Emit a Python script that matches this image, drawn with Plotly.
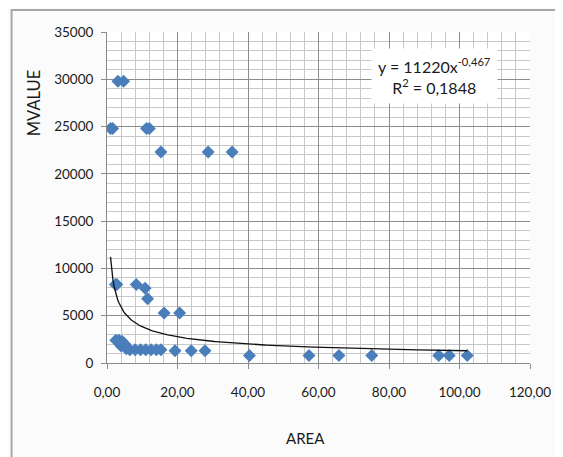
import numpy as np
import plotly.graph_objects as go

# ---- data ----
area = [1.0, 1.6, 3.1, 4.7, 11.2, 12.0, 15.3, 28.7, 35.5,
        2.4, 2.8, 8.3, 10.8, 11.5, 16.2, 20.6,
        2.5, 3.4, 4.3, 5.0, 4.0,
        5.5, 6.5, 8.0, 9.5, 11.0, 12.5, 14.0, 15.3,
        19.3, 23.9, 27.8,
        40.4, 57.3, 65.8, 75.1, 94.1, 97.1, 102.2]
mvalue = [24800, 24800, 29800, 29800, 24800, 24800, 22300, 22300, 22300,
          8300, 8300, 8300, 7900, 6800, 5300, 5300,
          2400, 2400, 2300, 2000, 1800,
          1500, 1400, 1400, 1400, 1400, 1400, 1400, 1400,
          1300, 1300, 1300,
          800, 800, 800, 800, 800, 800, 800]
coef_a = 11220
coef_b = -0.467
r2_text = "0,1848"
x_ticks = [0, 20, 40, 60, 80, 100, 120]

FONT = "Lato"
OFF = 8  # page body margin
W, H = 563 - OFF, 457 - OFF
# plot-area edges in page pixels
L, R, T, B = 107, 537, 32, 363

trend_x = np.linspace(min(area), max(area), 300)
trend_y = coef_a * trend_x ** coef_b

fig = go.Figure()
fig.add_trace(go.Scatter(x=area, y=mvalue, mode="markers",
                         marker=dict(symbol="diamond", size=10, color="#4a7ebb",
                                     line=dict(width=0)),
                         showlegend=False))
fig.add_trace(go.Scatter(x=trend_x, y=trend_y, mode="lines",
                         line=dict(color="#111111", width=1.3), showlegend=False))

def px_x(p):
    return (p - L) / (R - L)

def px_y(p):
    return (B - p) / (B - T)

fig.update_layout(
    width=W, height=H,
    margin=dict(l=L - OFF, r=W - (R - OFF), t=T - OFF, b=H - (B - OFF)),
    paper_bgcolor="#fbfbfb", plot_bgcolor="white",
    separators=",.",
    font=dict(family=FONT, size=13.5, color="#1a1a1a"),
    xaxis=dict(range=[0, 120], tickvals=x_ticks, tickformat=".2f",
               showgrid=True, gridcolor="#8c8c8c", gridwidth=1,
               minor=dict(dtick=4, showgrid=True, gridcolor="#c8c8c8", gridwidth=1),
               showline=True, linecolor="#8c8c8c", linewidth=1,
               ticks="outside", ticklen=5, tickcolor="#8c8c8c",
               ticklabelstandoff=12, zeroline=False),
    yaxis=dict(range=[0, 35000], dtick=5000, tickformat="d",
               showgrid=True, gridcolor="#8c8c8c", gridwidth=1,
               minor=dict(dtick=1000, showgrid=True, gridcolor="#c8c8c8", gridwidth=1),
               showline=True, linecolor="#8c8c8c", linewidth=1,
               ticks="outside", ticklen=5, tickcolor="#8c8c8c",
               ticklabelstandoff=5, zeroline=False),
    shapes=[dict(type="rect", xref="paper", yref="paper",
                 x0=px_x(10), x1=px_x(575), y0=px_y(470), y1=px_y(10),
                 line=dict(color="#a6a6a6", width=2), fillcolor="rgba(0,0,0,0)",
                 layer="below")],
    annotations=[
        dict(text=f"y = {coef_a}x<sup>{str(coef_b).replace('.', ',')}</sup><br>R<sup>2</sup> = {r2_text}",
             xref="paper", yref="paper", x=px_x(440), y=px_y(76),
             xanchor="center", yanchor="middle", showarrow=False, align="center",
             bgcolor="white", borderpad=6, font=dict(size=16, family=FONT, color="#1a1a1a")),
        dict(text="MVALUE", xref="paper", yref="paper", x=px_x(33), y=px_y(103),
             textangle=-90, showarrow=False, xanchor="center", yanchor="middle",
             font=dict(size=16.5, family=FONT, color="#1a1a1a")),
        dict(text="AREA", xref="paper", yref="paper", x=px_x(309), y=px_y(438),
             showarrow=False, xanchor="center", yanchor="middle",
             font=dict(size=15, family=FONT, color="#1a1a1a")),
    ],
)

fig.write_html("out.html")
